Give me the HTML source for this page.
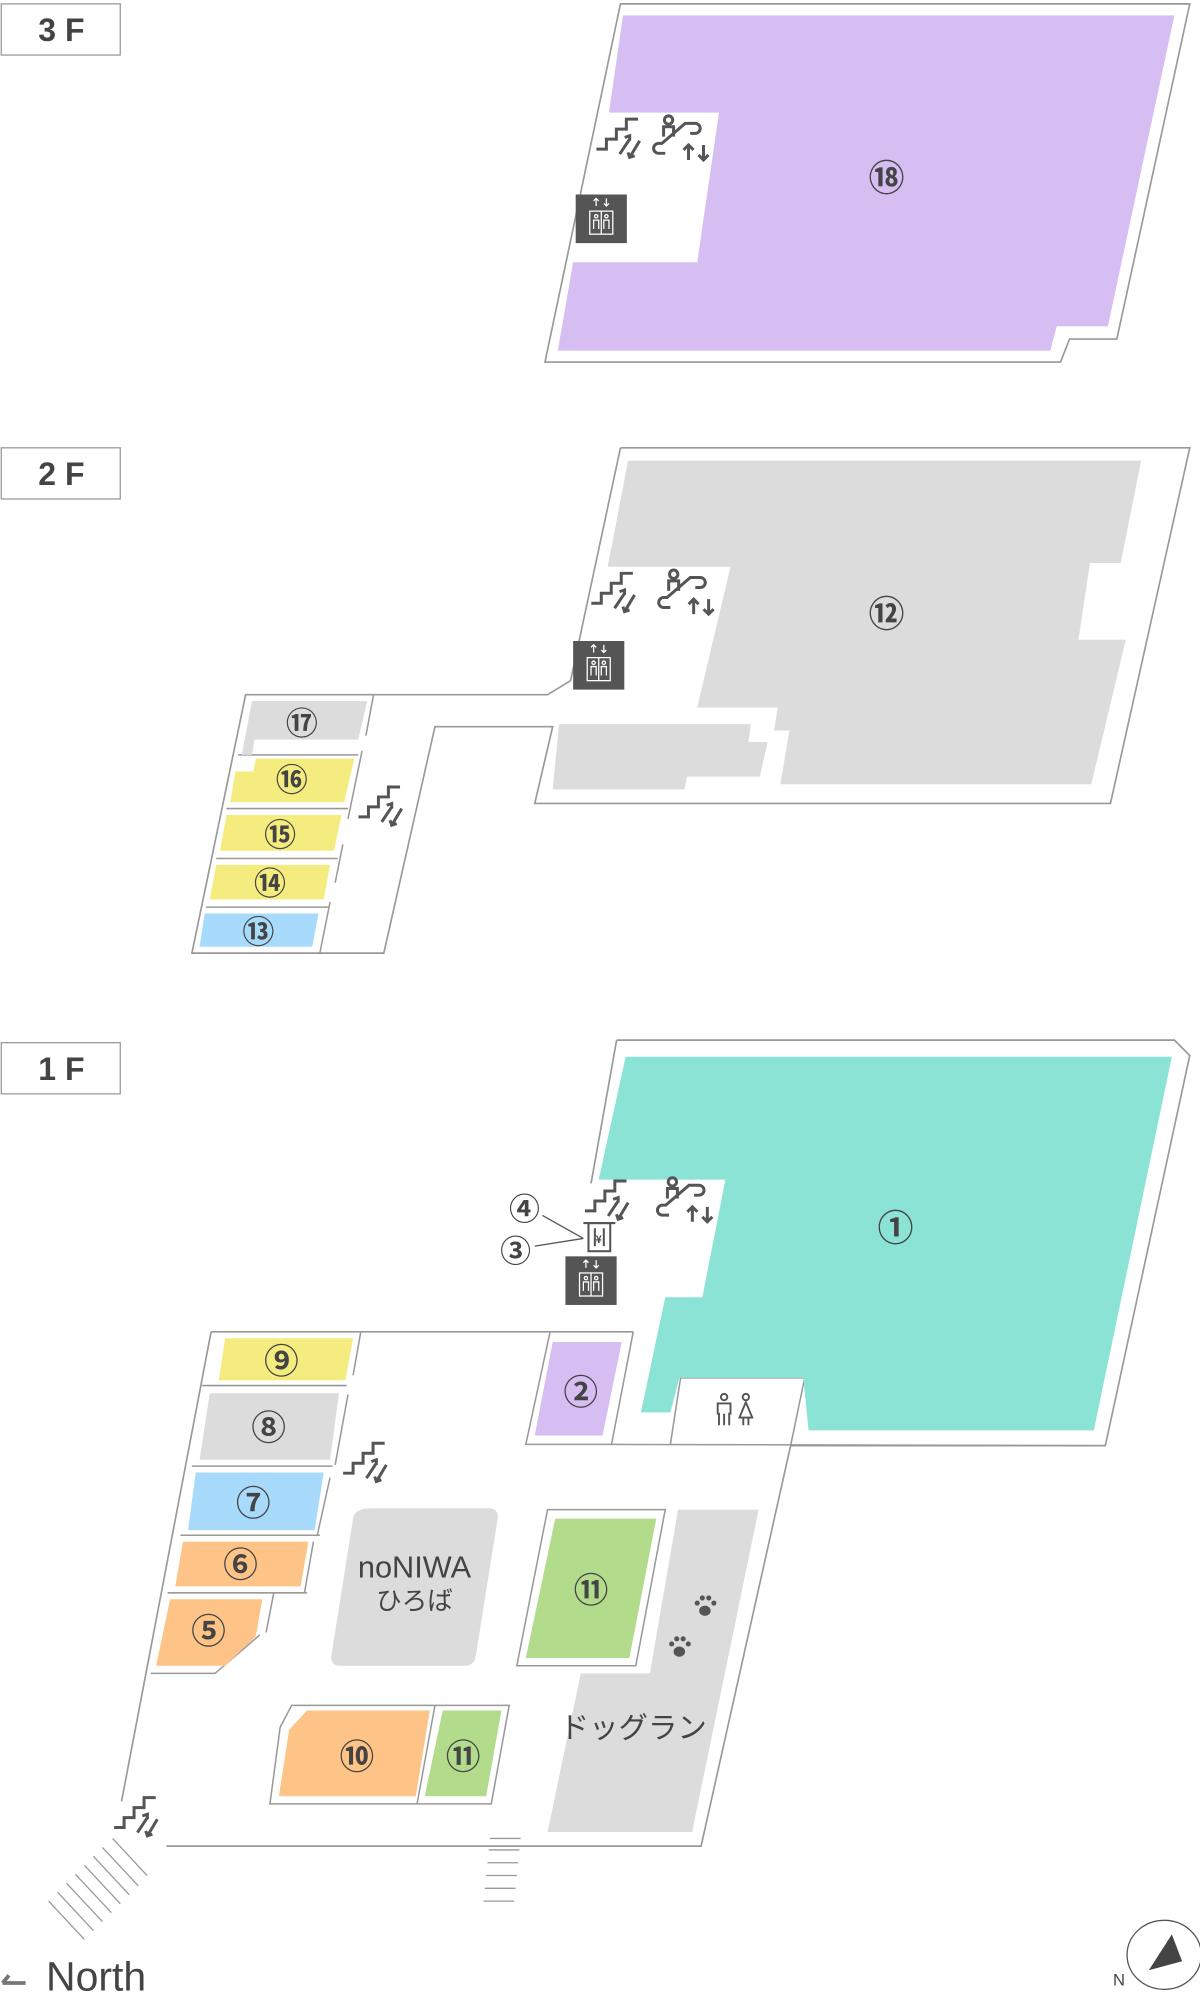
<!DOCTYPE html>
<html><head><meta charset="utf-8"><style>
html,body{margin:0;padding:0;background:#fff;}
svg{display:block;}
.n{font-family:"Noto Sans CJK JP","Liberation Sans",sans-serif;fill:#444;text-anchor:middle;dominant-baseline:central;font-weight:bold;}
</style></head><body>
<svg width="1200" height="1992" viewBox="0 0 938 1557" xmlns="http://www.w3.org/2000/svg">
<defs>
<g id="st" fill="none" stroke="#555" stroke-width="1.8">
<path d="M-16,5 h6 v-6 h6 v-6 h6 v-6 h7"/>
<path d="M-2,8 l6,-9 M1,-2 l3,-1 l0,3"/>
<path d="M10,0 l-6,10 M3,7 l1,3 l3,-1"/>
</g>
<g id="es" fill="none" stroke="#555" stroke-width="1.8">
<circle cx="-8" cy="-14" r="2.5"/>
<path d="M-11,-4 v-6 h6 v6"/>
<path d="M-10,6 h-4 a3,3 0 0 1 0,-6 h2 l14,-12 h6 a3,3 0 0 1 0,6 h-3"/>
<path d="M4,10 v-9 M1,4 l3,-3 l3,3 M13,1 v9 M10,7 l3,3 l3,-3"/>
</g>
<g id="el">
<rect x="-20" y="-19" width="40" height="38" fill="#555"/>
<g fill="none" stroke="#fff" stroke-width="1">
<rect x="-9" y="-6" width="18" height="18"/>
<path d="M-4,-10 v-6 M-6,-14 l2,-2 l2,2 M4,-16 v6 M2,-12 l2,2 l2,-2"/>
<circle cx="-4" cy="-2" r="1.3"/><circle cx="4" cy="-2" r="1.3"/>
<path d="M-6,8 v-7 h4 v7 M2,8 v-7 h4 v7 M0,-6 v18"/>
</g></g>
</defs>

<g font-family="Liberation Sans, sans-serif" font-weight="bold" font-size="25" fill="#444">
<rect x="1" y="3" width="93" height="40" fill="#fff" stroke="#999"/>
<text x="48" y="32" text-anchor="middle">3 F</text>
<rect x="1" y="350" width="93" height="40" fill="#fff" stroke="#999"/>
<text x="48" y="379" text-anchor="middle">2 F</text>
<rect x="1" y="815" width="93" height="40" fill="#fff" stroke="#999"/>
<text x="48" y="844" text-anchor="middle">1 F</text>
</g>

<!-- 3F -->
<polygon points="485,3 930,3 873,265 836,265 829,283 426,283" fill="#fff" stroke="#999" stroke-width="1.3"/>
<polygon points="487,12 918,12 866,255 826,255 821,274 436,274 448,205 545,205 562,88 476,88" fill="#d6bef2"/>
<use href="#st" transform="translate(487,110) scale(1.3)"/>
<use href="#es" transform="translate(533,112) scale(1.3)"/>
<use href="#el" x="470" y="171"/>
<text class="n" x="693" y="137" font-size="28">⑱</text>

<!-- 2F -->
<polyline points="485,350 930,350 868,628 418,628 432,568 340,568 300,745 150,745 192,543 428,543 446,532 485,350" fill="#fff" stroke="#999" stroke-width="1.3"/>
<polygon points="491,360 892,360 876,440 852,440 843,500 880,500 853,613 610,613 617,571 605,571 608,553 545,553 571,443 475,443" fill="#dcdcdc"/>
<polygon points="437,566 587,566 585,580 600,580 594,607 537,607 535,617 432,617" fill="#dcdcdc"/>
<use href="#st" transform="translate(483,465) scale(1.3)"/>
<use href="#es" transform="translate(537,467) scale(1.3)"/>
<use href="#el" x="468" y="520"/>
<text class="n" x="693" y="478" font-size="28">⑫</text>
<g stroke="#999" stroke-width="1.2">
<line x1="292" y1="543" x2="286" y2="575"/><line x1="283" y1="587" x2="272" y2="640"/><line x1="268" y1="660" x2="262" y2="690"/><line x1="258" y1="705" x2="250" y2="745"/>
<line x1="186" y1="590" x2="280" y2="590"/><line x1="177" y1="632" x2="272" y2="632"/><line x1="169" y1="671" x2="264" y2="671"/><line x1="161" y1="709" x2="257" y2="709"/>
</g>
<polygon points="197,548 287,548 280,578 199,578 197,590 189,590" fill="#dcdcdc"/>
<polygon points="200,593 277,593 269,627 180,627 184,603 198,603" fill="#f5ec80"/>
<polygon points="177,637 267,637 261,665 172,665" fill="#f5ec80"/>
<polygon points="169,676 258,676 253,703 164,703" fill="#f5ec80"/>
<polygon points="160,714 249,714 244,740 156,740" fill="#a8dafc"/>
<text class="n" x="236" y="564" font-size="25">⑰</text>
<text class="n" x="228" y="608" font-size="25">⑯</text>
<text class="n" x="219" y="651" font-size="25">⑮</text>
<text class="n" x="211" y="689" font-size="25">⑭</text>
<text class="n" x="202" y="727" font-size="25">⑬</text>
<use href="#st" transform="translate(301,632) scale(1.3)"/>

<!-- 1F -->
<polyline points="482,813 918,813 930,825 864,1130 618,1130 548,1443 130,1443" fill="none" stroke="#999" stroke-width="1.3"/>
<polyline points="482,813 462,925" fill="none" stroke="#999" stroke-width="1.3"/>
<line x1="165" y1="1041" x2="495" y2="1041" stroke="#999" stroke-width="1.3"/>
<line x1="165" y1="1041" x2="95" y2="1408" stroke="#999" stroke-width="1.3"/>
<polyline points="430,1041 411,1129 478,1129 495,1041" fill="none" stroke="#999" stroke-width="1.2"/>
<polyline points="524,1129 532,1077 629,1077 618,1130" fill="none" stroke="#999" stroke-width="1.2"/>
<line x1="478" y1="1129" x2="864" y2="1130" stroke="#999" stroke-width="1.2"/>
<polygon points="489,826 916,826 855,1118 632,1118 628,1077 531,1077 524,1104 501,1104 520,1014 549,1014 567,922 468,922" fill="#8ae3d4"/>
<polygon points="432,1049 486,1049 471,1122 418,1122" fill="#d6bef2"/>
<text class="n" x="454" y="1086" font-size="27">②</text>
<text class="n" x="700" y="958" font-size="28">①</text>
<use href="#st" transform="translate(478,940) scale(1.3)"/>
<use href="#es" transform="translate(536,942) scale(1.3)"/>
<use href="#el" x="462" y="1001"/>
<g fill="none" stroke="#555" stroke-width="1.6">
<rect x="460" y="956" width="17" height="22" fill="#fff"/>
<path d="M456,956 h25 M465,960 v14 M472,960 v14"/>
</g>
<text class="n" x="468" y="968" font-size="8">¥</text>
<line x1="424" y1="950" x2="456" y2="968" stroke="#555" stroke-width="1"/>
<line x1="418" y1="974" x2="456" y2="968" stroke="#555" stroke-width="1"/>
<text class="n" x="410" y="943" font-size="24">④</text>
<text class="n" x="403" y="976" font-size="24">③</text>
<g fill="none" stroke="#555" stroke-width="1.5">
<circle cx="566" cy="1092" r="2.5"/><path d="M562,1114 v-9 h-1 v-8 h10 v8 h-1 v9 M566,1105 v9"/>
<circle cx="583" cy="1092" r="2.5"/><path d="M583,1096 l-5,12 h10 z M581,1108 v6 M585,1108 v6"/>
</g>
<g stroke="#999" stroke-width="1.2" fill="none">
<line x1="282" y1="1041" x2="276" y2="1075"/><line x1="272" y1="1090" x2="262" y2="1145"/><line x1="258" y1="1155" x2="248" y2="1200"/><line x1="245" y1="1205" x2="238" y2="1245"/><line x1="214" y1="1245" x2="208" y2="1276"/>
<line x1="158" y1="1083" x2="271" y2="1083"/><line x1="150" y1="1146" x2="260" y2="1146"/><line x1="141" y1="1200" x2="250" y2="1200"/><line x1="131" y1="1245" x2="240" y2="1245"/><polyline points="118,1308 168,1308 203,1278"/>
</g>
<polygon points="176,1046 276,1046 270,1079 171,1079" fill="#f5ec80"/>
<polygon points="164,1089 265,1089 258,1141 156,1141" fill="#dcdcdc"/>
<polygon points="153,1151 253,1151 246,1196 147,1196" fill="#a8dafc"/>
<polygon points="143,1205 241,1205 235,1240 137,1240" fill="#fec487"/>
<polygon points="133,1250 205,1250 200,1279 176,1302 122,1302" fill="#fec487"/>
<text class="n" x="220" y="1062" font-size="27">⑨</text>
<text class="n" x="210" y="1114" font-size="27">⑧</text>
<text class="n" x="198" y="1173" font-size="27">⑦</text>
<text class="n" x="188" y="1221" font-size="27">⑥</text>
<text class="n" x="163" y="1273" font-size="27">⑤</text>
<use href="#st" transform="translate(289,1145) scale(1.3)"/>
<use href="#st" transform="translate(110,1422) scale(1.3)"/>
<path d="M290,1179 H382 Q390,1179 389,1187 L372,1294 Q371,1302 363,1302 H266 Q258,1302 259,1294 L276,1187 Q277,1179 290,1179 Z" fill="#dcdcdc"/>
<text x="324" y="1225" font-size="24" font-family="Liberation Sans, sans-serif" fill="#444" text-anchor="middle" dominant-baseline="central">noNIWA</text>
<text x="324" y="1250" font-size="20" font-family="Noto Sans CJK JP, sans-serif" fill="#444" text-anchor="middle" dominant-baseline="central">ひろば</text>
<polygon points="428,1180 520,1180 497,1302 404,1302" fill="#fff" stroke="#999" stroke-width="1.2"/>
<polygon points="434,1187 513,1187 492,1296 411,1296" fill="#b3db8c"/>
<text class="n" x="462" y="1241" font-size="27">⑪</text>
<polygon points="530,1180 593,1180 541,1432 428,1432 454,1308 508,1308" fill="#dcdcdc"/>
<g fill="#555">
<ellipse cx="551" cy="1259" rx="4.5" ry="4"/><circle cx="545" cy="1253" r="2"/><circle cx="549" cy="1249" r="2"/><circle cx="554" cy="1249" r="2"/><circle cx="558" cy="1253" r="2"/>
<ellipse cx="531" cy="1291" rx="4.5" ry="4"/><circle cx="525" cy="1285" r="2"/><circle cx="529" cy="1281" r="2"/><circle cx="534" cy="1281" r="2"/><circle cx="538" cy="1285" r="2"/>
</g>
<text x="495" y="1349" font-size="23" font-family="Noto Sans CJK JP, sans-serif" fill="#444" text-anchor="middle" dominant-baseline="central">ドッグラン</text>
<polygon points="228,1333 398,1333 384,1410 211,1410 219,1350" fill="#fff" stroke="#999" stroke-width="1.2"/>
<line x1="340" y1="1333" x2="326" y2="1410" stroke="#999" stroke-width="1.2"/>
<polygon points="240,1337 336,1337 325,1404 218,1404 226,1352" fill="#fec487"/>
<polygon points="346,1337 392,1337 380,1404 332,1404" fill="#b3db8c"/>
<text class="n" x="279" y="1371" font-size="27">⑩</text>
<text class="n" x="362" y="1371" font-size="27">⑪</text>
<g stroke="#999" stroke-width="1">
<line x1="88" y1="1437" x2="115" y2="1466"/><line x1="80" y1="1444" x2="108" y2="1474"/><line x1="73" y1="1451" x2="101" y2="1481"/><line x1="66" y1="1458" x2="94" y2="1488"/><line x1="59" y1="1465" x2="87" y2="1495"/><line x1="52" y1="1472" x2="80" y2="1502"/><line x1="45" y1="1479" x2="73" y2="1509"/><line x1="38" y1="1486" x2="66" y2="1516"/>
<line x1="383" y1="1437" x2="407" y2="1437"/><line x1="382" y1="1446" x2="406" y2="1446"/><line x1="381" y1="1456" x2="405" y2="1456"/><line x1="380" y1="1466" x2="404" y2="1466"/><line x1="379" y1="1476" x2="403" y2="1476"/><line x1="378" y1="1486" x2="402" y2="1486"/>
</g>
<path d="M2,1550 l5,-6 M2,1550 h18" stroke="#777" stroke-width="3" fill="none"/>
<text x="36" y="1556" font-family="Liberation Sans, sans-serif" font-size="32" fill="#444">North</text>
<ellipse cx="910" cy="1528" rx="29" ry="27" fill="#fff" stroke="#555" stroke-width="1"/>
<polygon points="916,1512 924,1533 898,1540" fill="#444"/>
<text x="870" y="1552" font-family="Liberation Sans, sans-serif" font-size="13" fill="#444">N</text>
</svg>
</body></html>
